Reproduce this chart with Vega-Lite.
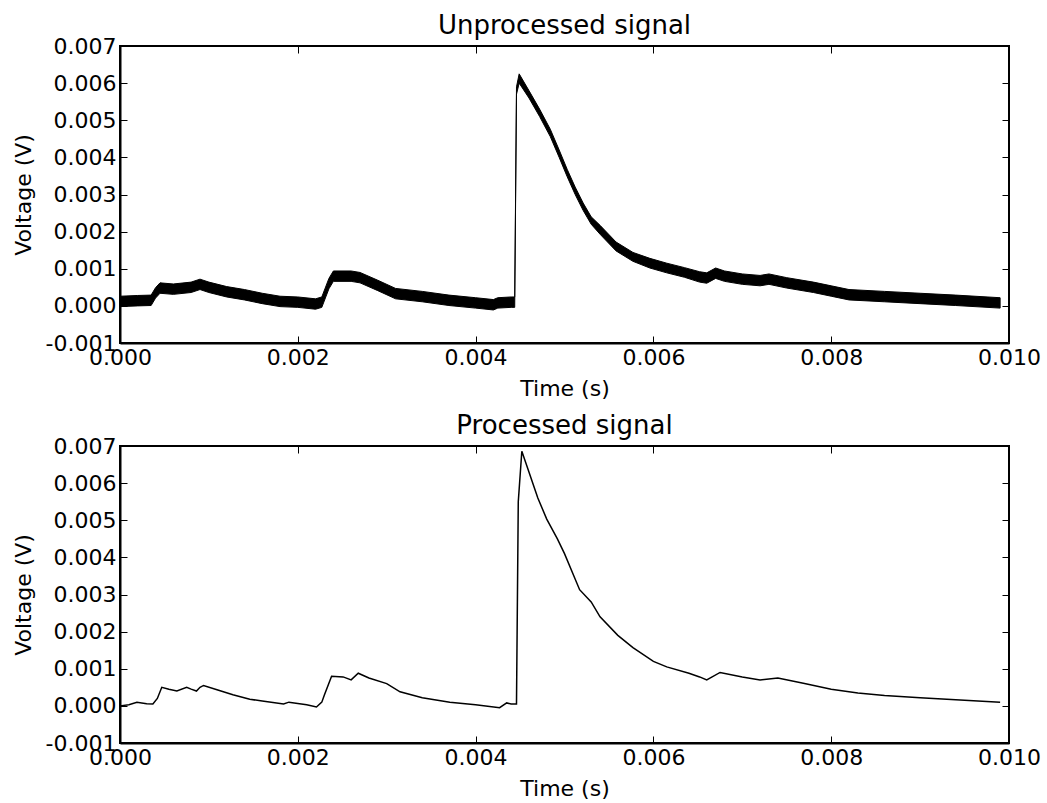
{
  "$schema": "https://vega.github.io/schema/vega-lite/v6.json",
  "background": "white",
  "padding": {"left": 11, "top": 12, "right": 0, "bottom": 0},
  "spacing": 12,
  "datasets": {
    "raw": [
      {"t": 0.0000, "lo": -0.00002, "hi": 0.00026},
      {"t": 0.0002, "lo": 0.0000, "hi": 0.00028},
      {"t": 0.00035, "lo": 0.00001, "hi": 0.00029},
      {"t": 0.0004, "lo": 0.00021, "hi": 0.00049},
      {"t": 0.00045, "lo": 0.00034, "hi": 0.00062},
      {"t": 0.0006, "lo": 0.00031, "hi": 0.00059},
      {"t": 0.0008, "lo": 0.00036, "hi": 0.00064},
      {"t": 0.0009, "lo": 0.00044, "hi": 0.00072},
      {"t": 0.0010, "lo": 0.00036, "hi": 0.00064},
      {"t": 0.0012, "lo": 0.00024, "hi": 0.00052},
      {"t": 0.0014, "lo": 0.00016, "hi": 0.00044},
      {"t": 0.0016, "lo": 0.00006, "hi": 0.00034},
      {"t": 0.0018, "lo": -0.00002, "hi": 0.00026},
      {"t": 0.0020, "lo": -0.00004, "hi": 0.00024},
      {"t": 0.0022, "lo": -0.00009, "hi": 0.00019},
      {"t": 0.00227, "lo": -0.00004, "hi": 0.00024},
      {"t": 0.00235, "lo": 0.00046, "hi": 0.00074},
      {"t": 0.0024, "lo": 0.00066, "hi": 0.00094},
      {"t": 0.0026, "lo": 0.00066, "hi": 0.00094},
      {"t": 0.0027, "lo": 0.00062, "hi": 0.0009},
      {"t": 0.0029, "lo": 0.00041, "hi": 0.00069},
      {"t": 0.0031, "lo": 0.00019, "hi": 0.00047},
      {"t": 0.0034, "lo": 0.00011, "hi": 0.00039},
      {"t": 0.0037, "lo": 0.00001, "hi": 0.00029},
      {"t": 0.0040, "lo": -0.00006, "hi": 0.00022},
      {"t": 0.0042, "lo": -0.00011, "hi": 0.00017},
      {"t": 0.00425, "lo": -0.00006, "hi": 0.00022},
      {"t": 0.0044, "lo": -0.00004, "hi": 0.00024},
      {"t": 0.00444, "lo": -0.00004, "hi": 0.00024},
      {"t": 0.00446, "lo": 0.0057, "hi": 0.0059},
      {"t": 0.00449, "lo": 0.0060, "hi": 0.00625},
      {"t": 0.0046, "lo": 0.0056, "hi": 0.0058},
      {"t": 0.00472, "lo": 0.0051, "hi": 0.0053},
      {"t": 0.00484, "lo": 0.00456, "hi": 0.00476},
      {"t": 0.00494, "lo": 0.0040, "hi": 0.0042},
      {"t": 0.00503, "lo": 0.00348, "hi": 0.00368},
      {"t": 0.00512, "lo": 0.0030, "hi": 0.0032},
      {"t": 0.00521, "lo": 0.00257, "hi": 0.00277},
      {"t": 0.0053, "lo": 0.0022, "hi": 0.0024},
      {"t": 0.0054, "lo": 0.00193, "hi": 0.00217},
      {"t": 0.00558, "lo": 0.00148, "hi": 0.00172},
      {"t": 0.00577, "lo": 0.0012, "hi": 0.00144},
      {"t": 0.00596, "lo": 0.00102, "hi": 0.00128},
      {"t": 0.00615, "lo": 0.00089, "hi": 0.00115},
      {"t": 0.00635, "lo": 0.00077, "hi": 0.00103},
      {"t": 0.00652, "lo": 0.00064, "hi": 0.00092},
      {"t": 0.0066, "lo": 0.00061, "hi": 0.00089},
      {"t": 0.0067, "lo": 0.00074, "hi": 0.00102},
      {"t": 0.0068, "lo": 0.00066, "hi": 0.00094},
      {"t": 0.0070, "lo": 0.00058, "hi": 0.00086},
      {"t": 0.0072, "lo": 0.00054, "hi": 0.00082},
      {"t": 0.0073, "lo": 0.00058, "hi": 0.00086},
      {"t": 0.0075, "lo": 0.00048, "hi": 0.00076},
      {"t": 0.0078, "lo": 0.00036, "hi": 0.00064},
      {"t": 0.0080, "lo": 0.00026, "hi": 0.00054},
      {"t": 0.0082, "lo": 0.00016, "hi": 0.00044},
      {"t": 0.0086, "lo": 0.00011, "hi": 0.00039},
      {"t": 0.0090, "lo": 0.00006, "hi": 0.00034},
      {"t": 0.0094, "lo": 0.00001, "hi": 0.00029},
      {"t": 0.0099, "lo": -0.00006, "hi": 0.00022}
    ],
    "proc": [
      {"t": 0.0000, "v": 0.0000},
      {"t": 0.0001, "v": 0.00003},
      {"t": 0.00019, "v": 0.0001},
      {"t": 0.0003, "v": 0.00006},
      {"t": 0.00037, "v": 0.00005},
      {"t": 0.00042, "v": 0.0002},
      {"t": 0.00047, "v": 0.0005},
      {"t": 0.00055, "v": 0.00045},
      {"t": 0.00064, "v": 0.0004},
      {"t": 0.00075, "v": 0.0005},
      {"t": 0.0008, "v": 0.00045},
      {"t": 0.00086, "v": 0.0004},
      {"t": 0.0009, "v": 0.0005},
      {"t": 0.00094, "v": 0.00055},
      {"t": 0.0011, "v": 0.00043},
      {"t": 0.00127, "v": 0.0003},
      {"t": 0.00146, "v": 0.00018},
      {"t": 0.0016, "v": 0.00013},
      {"t": 0.00184, "v": 0.00005},
      {"t": 0.0019, "v": 0.0001},
      {"t": 0.0021, "v": 0.00003},
      {"t": 0.00221, "v": -0.00003},
      {"t": 0.00227, "v": 0.0001},
      {"t": 0.0023, "v": 0.0003},
      {"t": 0.00238, "v": 0.0008},
      {"t": 0.00251, "v": 0.00078},
      {"t": 0.0026, "v": 0.0007},
      {"t": 0.00268, "v": 0.00088},
      {"t": 0.0028, "v": 0.00075},
      {"t": 0.0030, "v": 0.0006},
      {"t": 0.00315, "v": 0.00038},
      {"t": 0.0034, "v": 0.00022},
      {"t": 0.00371, "v": 0.0001},
      {"t": 0.0040, "v": 0.00003},
      {"t": 0.00427, "v": -0.00005},
      {"t": 0.00435, "v": 0.00008},
      {"t": 0.0044, "v": 0.00005},
      {"t": 0.00446, "v": 0.00005},
      {"t": 0.00448, "v": 0.0055},
      {"t": 0.00452, "v": 0.00686},
      {"t": 0.0046, "v": 0.0063},
      {"t": 0.0047, "v": 0.0056},
      {"t": 0.0048, "v": 0.00503},
      {"t": 0.00492, "v": 0.0045},
      {"t": 0.0050, "v": 0.0041},
      {"t": 0.00517, "v": 0.00313},
      {"t": 0.0053, "v": 0.0028},
      {"t": 0.0054, "v": 0.0024},
      {"t": 0.0056, "v": 0.0019},
      {"t": 0.00577, "v": 0.00157},
      {"t": 0.0060, "v": 0.0012},
      {"t": 0.00615, "v": 0.00105},
      {"t": 0.0064, "v": 0.00088},
      {"t": 0.00652, "v": 0.00078},
      {"t": 0.0066, "v": 0.0007},
      {"t": 0.00675, "v": 0.0009},
      {"t": 0.0070, "v": 0.00078},
      {"t": 0.0072, "v": 0.0007},
      {"t": 0.0074, "v": 0.00075},
      {"t": 0.0077, "v": 0.0006},
      {"t": 0.0080, "v": 0.00045},
      {"t": 0.0083, "v": 0.00035},
      {"t": 0.0086, "v": 0.00028},
      {"t": 0.0090, "v": 0.00022},
      {"t": 0.0095, "v": 0.00015},
      {"t": 0.0099, "v": 0.0001}
    ]
  },
  "vconcat": [
    {
      "title": {"text": "Unprocessed signal"},
      "width": 889,
      "height": 297,
      "data": {"name": "raw"},
      "layer": [
        {
          "mark": {"type": "area", "color": "black", "stroke": "black", "strokeWidth": 1},
          "encoding": {
            "x": {"field": "t", "type": "quantitative", "scale": {"domain": [0, 0.01], "nice": false, "zero": false},
                  "axis": {"title": "Time (s)", "values": [0, 0.002, 0.004, 0.006, 0.008, 0.01], "format": ".3f"}},
            "y": {"field": "hi", "type": "quantitative", "scale": {"domain": [-0.001, 0.007], "nice": false, "zero": false},
                  "axis": {"title": "Voltage (V)", "values": [-0.001, 0, 0.001, 0.002, 0.003, 0.004, 0.005, 0.006, 0.007], "format": ".3f", "labelExpr": "replace(datum.label, '\u2212', '-')"}},
            "y2": {"field": "lo"}
          }
        },
        {
          "mark": {"type": "point", "opacity": 0},
          "encoding": {
            "x": {"field": "t", "type": "quantitative", "axis": {"orient": "top", "labels": false, "title": null, "domain": false, "values": [0, 0.002, 0.004, 0.006, 0.008, 0.01]}},
            "y": {"field": "hi", "type": "quantitative", "axis": {"orient": "right", "labels": false, "title": null, "domain": false, "values": [-0.001, 0, 0.001, 0.002, 0.003, 0.004, 0.005, 0.006, 0.007]}}
          }
        }
      ],
      "resolve": {"axis": {"x": "independent", "y": "independent"}}
    },
    {
      "title": {"text": "Processed signal"},
      "width": 889,
      "height": 297,
      "data": {"name": "proc"},
      "layer": [
        {
          "mark": {"type": "line", "color": "black", "strokeWidth": 1.5},
          "encoding": {
            "x": {"field": "t", "type": "quantitative", "scale": {"domain": [0, 0.01], "nice": false, "zero": false},
                  "axis": {"title": "Time (s)", "values": [0, 0.002, 0.004, 0.006, 0.008, 0.01], "format": ".3f"}},
            "y": {"field": "v", "type": "quantitative", "scale": {"domain": [-0.001, 0.007], "nice": false, "zero": false},
                  "axis": {"title": "Voltage (V)", "values": [-0.001, 0, 0.001, 0.002, 0.003, 0.004, 0.005, 0.006, 0.007], "format": ".3f", "labelExpr": "replace(datum.label, '\u2212', '-')"}}
          }
        },
        {
          "mark": {"type": "point", "opacity": 0},
          "encoding": {
            "x": {"field": "t", "type": "quantitative", "axis": {"orient": "top", "labels": false, "title": null, "domain": false, "values": [0, 0.002, 0.004, 0.006, 0.008, 0.01]}},
            "y": {"field": "v", "type": "quantitative", "axis": {"orient": "right", "labels": false, "title": null, "domain": false, "values": [-0.001, 0, 0.001, 0.002, 0.003, 0.004, 0.005, 0.006, 0.007]}}
          }
        }
      ],
      "resolve": {"axis": {"x": "independent", "y": "independent"}}
    }
  ],
  "config": {
    "font": "DejaVu Sans",
    "view": {"stroke": "black", "strokeWidth": 2},
    "axis": {
      "grid": false,
      "labelFont": "DejaVu Sans",
      "titleFont": "DejaVu Sans",
      "labelFontSize": 22,
      "titleFontSize": 22,
      "titleFontWeight": "normal",
      "labelColor": "black",
      "titleColor": "black",
      "domainColor": "black",
      "domainWidth": 2,
      "tickColor": "black",
      "tickWidth": 1,
      "tickSize": -7,
      "labelPadding": 11,
      "labelFlush": false,
      "labelOverlap": false,
      "titlePadding": 10
    },
    "title": {"font": "DejaVu Sans", "fontSize": 26, "fontWeight": "normal", "color": "black", "offset": -4}
  }
}
